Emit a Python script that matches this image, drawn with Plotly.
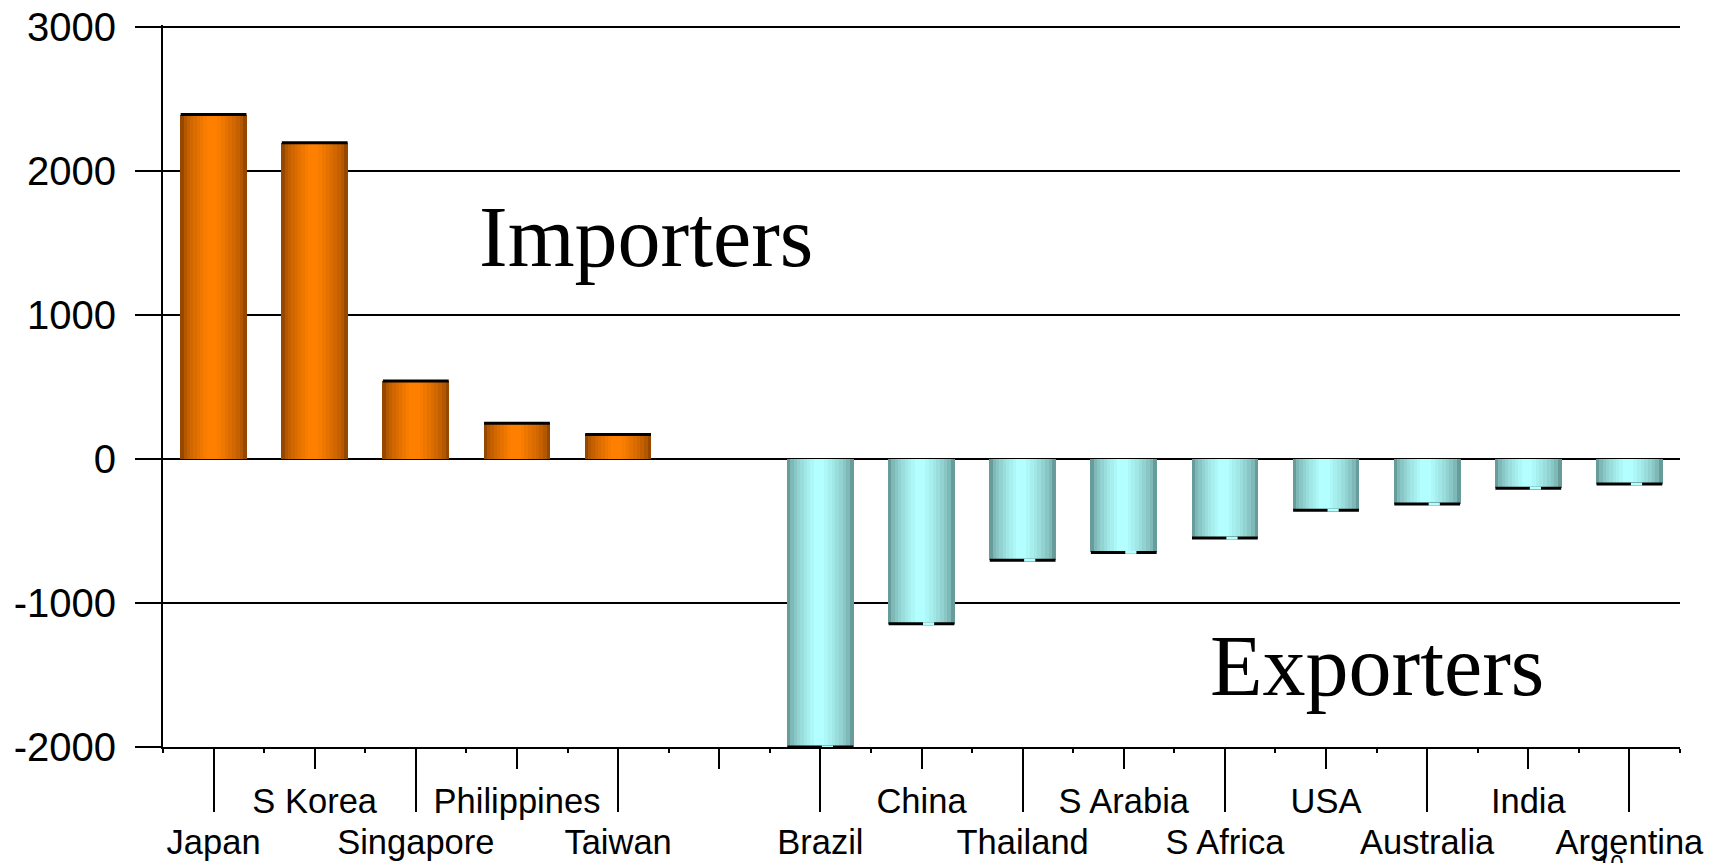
import plotly.graph_objects as go

# data
countries = [
    "Japan", "S Korea", "Singapore", "Philippines", "Taiwan", "",
    "Brazil", "China", "Thailand", "S Arabia", "S Africa",
    "USA", "Australia", "India", "Argentina",
]
importers = [2390, 2195, 540, 247, 170]
exporters = [-2000, -1144, -703, -649, -550, -356, -314, -203, -175]

y_ticks = [3000, 2000, 1000, 0, -1000, -2000]
y_labels = ["3000", "2000", "1000", "0", "-1000", "-2000"]

n = len(countries)
x_imp = list(range(len(importers)))
x_exp = list(range(n - len(exporters), n))

BAR_W = 0.66
LAYERS = 9


def mix(c1, c2, t):
    return "rgb(%d,%d,%d)" % tuple(round(a + (b - a) * t) for a, b in zip(c1, c2))


fig = go.Figure()

# fake cylinder shading: stacked narrower & lighter bars
groups = [
    (x_imp, importers, (150, 72, 0), (255, 128, 0)),
    (x_exp, exporters, (104, 156, 154), (179, 255, 255)),
]
for xs, ys, edge, center in groups:
    for k in range(LAYERS):
        t = k / (LAYERS - 1)
        w = BAR_W * (1 - k / (LAYERS + 0.5))
        fig.add_trace(
            go.Bar(
                x=xs,
                y=ys,
                width=w,
                offset=-0.015 * t - w / 2,
                marker=dict(color=mix(edge, center, t ** 0.6), line=dict(width=0)),
                showlegend=False,
                hoverinfo="skip",
            )
        )

# dark caps at the value end of each bar (line-ew length is 1.4 * size)
fig.add_trace(
    go.Scatter(
        x=x_imp + x_exp,
        y=importers + exporters,
        mode="markers",
        marker=dict(symbol="line-ew", size=47, line=dict(width=3, color="black")),
        showlegend=False,
        hoverinfo="skip",
    )
)
fig.add_trace(
    go.Scatter(
        x=[v + 0.07 for v in x_exp],
        y=exporters,
        mode="markers",
        marker=dict(symbol="line-ew", size=8, line=dict(width=3, color="#b3ffff")),
        showlegend=False,
        hoverinfo="skip",
    )
)

# dummy trace so the second x axis is drawn
fig.add_trace(
    go.Scatter(x=[None], y=[None], xaxis="x2", showlegend=False, hoverinfo="skip")
)

lower = list(range(0, n, 2))
upper = list(range(1, n, 2))
xrange = [-0.5, n - 0.5]
tick_font = dict(family="Liberation Sans, Arial, sans-serif", size=34.5, color="black")

# page body has an 8px margin, so the figure is a bit smaller than the window
fig.update_layout(
    width=1705,
    height=855,
    margin=dict(l=155, r=33, t=17, b=116),
    plot_bgcolor="white",
    paper_bgcolor="white",
    barmode="overlay",
    bargap=0,
    xaxis=dict(
        range=xrange,
        automargin=False,
        tickmode="array",
        tickvals=lower,
        ticktext=[countries[i] for i in lower],
        ticks="outside",
        ticklen=63,
        tickwidth=1.5,
        tickcolor="black",
        tickfont=tick_font,
        ticklabelstandoff=1,
        ticklabeloverflow="allow",
        showgrid=False,
        zeroline=False,
        showline=True,
        linecolor="black",
        linewidth=2,
        minor=dict(tick0=0.5, dtick=1, ticks="outside", ticklen=4, tickwidth=1.5,
                   tickcolor="black", showgrid=False),
    ),
    xaxis2=dict(
        range=xrange,
        automargin=False,
        overlaying="x",
        side="bottom",
        anchor="y",
        tickmode="array",
        tickvals=upper,
        ticktext=[countries[i] for i in upper],
        ticks="outside",
        ticklen=21,
        tickwidth=1.5,
        tickcolor="black",
        tickfont=tick_font,
        ticklabelstandoff=3,
        ticklabeloverflow="allow",
        showgrid=False,
        zeroline=False,
        showline=False,
    ),
    yaxis=dict(
        range=[-2000, 3012],
        automargin=False,
        tickmode="array",
        tickvals=y_ticks,
        ticktext=y_labels,
        ticks="outside",
        ticklen=26,
        tickwidth=1.5,
        tickcolor="black",
        tickfont=dict(family="Liberation Sans, Arial, sans-serif", size=40, color="black"),
        ticklabelstandoff=11,
        ticklabeloverflow="allow",
        showgrid=True,
        gridcolor="black",
        gridwidth=1.5,
        zeroline=True,
        zerolinecolor="black",
        zerolinewidth=2,
        showline=True,
        linecolor="black",
        linewidth=2,
    ),
    annotations=[
        dict(x=4.28, y=1537, xref="x", yref="y", text="Importers", showarrow=False,
             font=dict(family="Liberation Serif, Times New Roman, serif", size=86, color="black")),
        dict(x=11.5, y=-1439, xref="x", yref="y", text="Exporters", showarrow=False,
             font=dict(family="Liberation Serif, Times New Roman, serif", size=86, color="black")),
        dict(x=0.9545, y=-0.14, xref="paper", yref="paper", text="10", showarrow=False,
             xanchor="center", yanchor="top",
             font=dict(family="Liberation Sans, Arial, sans-serif", size=24, color="black")),
    ],
)

fig.write_html("out.html")
